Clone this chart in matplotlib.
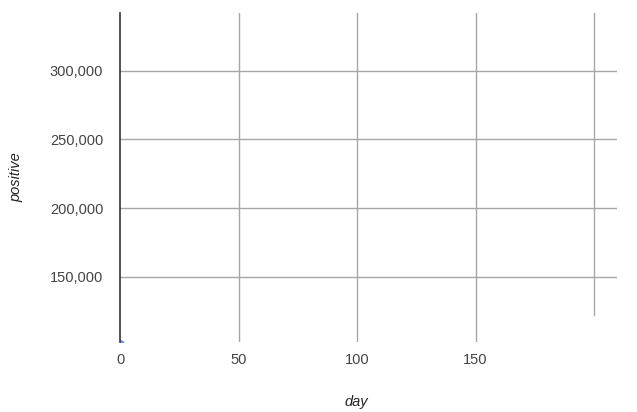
import matplotlib
matplotlib.use("Agg")
import matplotlib.pyplot as plt
from matplotlib.ticker import FuncFormatter

# data (only one point peeks in at the bottom left)
day = [0]
positive = [101500]

x_ticks = [0, 50, 100, 150]
y_ticks = [150000, 200000, 250000, 300000]

plt.rcParams['font.family'] = ['Liberation Sans', 'DejaVu Sans']

W, H = 637, 412
fig = plt.figure(figsize=(W / 100, H / 100), dpi=100)
left, right, top, bottom = 120, 617, 13, 342
ax = fig.add_axes([left / W, 1 - bottom / H, (right - left) / W, (bottom - top) / H])

ax.set_xlim(0, 209.7)
ax.set_ylim(102700, 342000)

grid_col = '#a6a6a6'
for yv in y_ticks:
    ax.axhline(yv, color=grid_col, lw=1, zorder=1)
for xv in x_ticks[1:]:
    ax.axvline(xv, color=grid_col, lw=1, zorder=1)
# last vertical grid line stops short of the bottom
ax.axvline(200, ymin=(342 - 315) / (342 - 13), ymax=1, color=grid_col, lw=1, zorder=1)

ax.scatter(day, positive, s=30, color='#3366cc', alpha=0.6, zorder=2, clip_on=True)

for s in ['top', 'right', 'bottom']:
    ax.spines[s].set_visible(False)
ax.spines['left'].set_color('#333333')
ax.spines['left'].set_linewidth(1.2)
ax.spines['left'].set_zorder(3)

ax.set_xticks(x_ticks)
ax.set_yticks(y_ticks)
ax.yaxis.set_major_formatter(FuncFormatter(lambda v, p: f"{int(v):,}"))
ax.tick_params(length=0, labelsize=10.5, labelcolor='#444444')
ax.tick_params(axis='x', pad=8)
ax.tick_params(axis='y', pad=12)

fig.text(356 / W, 1 - 402 / H, 'day', fontstyle='italic', fontsize=10.5,
         color='#222222', ha='center', va='center')
fig.text(16 / W, 1 - 177 / H, 'positive', fontstyle='italic', fontsize=10.5,
         color='#222222', ha='center', va='center', rotation=90)

fig.savefig('out.png', dpi=100)
